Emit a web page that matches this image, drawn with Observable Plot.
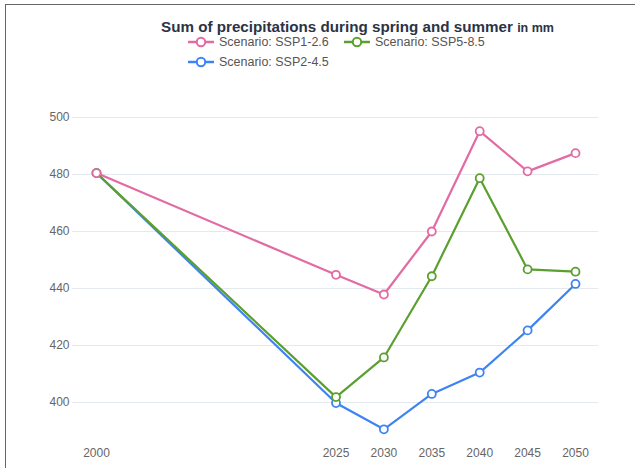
<!DOCTYPE html>
<html><head><meta charset="utf-8">
<script src="https://cdn.jsdelivr.net/npm/d3@7"></script>
<script src="https://cdn.jsdelivr.net/npm/@observablehq/plot@0.6"></script>
<style>
body{margin:0;background:#fff;font-family:"Liberation Sans",Arial,sans-serif;}
#wrap{position:relative;width:635px;height:468px;overflow:hidden;}
#frame{position:absolute;left:5px;top:4px;right:-2px;bottom:-2px;border-top:1.5px solid #666;border-left:1.5px solid #666;}
#title{position:absolute;left:0;width:715px;top:18px;text-align:center;font-weight:bold;font-size:15.2px;color:#2b3345;}
#title small{font-size:12.5px;}
.leg{position:absolute;font-size:12.5px;color:#555;display:flex;align-items:center;}
.leg svg{margin-right:5px;}
#chart{position:absolute;left:0;top:90px;}
</style></head>
<body><div id="wrap"><div id="frame"></div>
<div id="title">Sum of precipitations during spring and summer <small>in mm</small></div>
<div id="legend"></div>
<div id="chart"></div></div>
<script>
const years = [2000, 2025, 2030, 2035, 2040, 2045, 2050];
const ssp126 = [480.5, 444.8, 437.9, 460.0, 495.2, 481.1, 487.5];
const ssp245 = [480.5, 399.8, 390.6, 403.0, 410.5, 425.3, 441.6];
const ssp585 = [480.5, 401.9, 415.8, 444.3, 478.7, 446.7, 445.9];
const seriesNames = ["Scenario: SSP1-2.6", "Scenario: SSP5-8.5", "Scenario: SSP2-4.5"];
const seriesColors = ["#e26ba3", "#5b9f2f", "#3d84f2"];
const yTicks = [400, 420, 440, 460, 480, 500];

const seriesValues = {"Scenario: SSP1-2.6": ssp126, "Scenario: SSP5-8.5": ssp585, "Scenario: SSP2-4.5": ssp245};
const data = [];
for (const s of ["Scenario: SSP2-4.5", "Scenario: SSP5-8.5", "Scenario: SSP1-2.6"]) {
  years.forEach((yr, i) => data.push({series: s, year: yr, value: seriesValues[s][i]}));
}

// legend
const legPos = [[188, 35], [344, 35], [188, 55]];
const legend = document.getElementById("legend");
seriesNames.forEach((n, i) => {
  const d = document.createElement("div");
  d.className = "leg";
  d.style.left = legPos[i][0] + "px";
  d.style.top = legPos[i][1] + "px";
  d.innerHTML = `<svg width="26" height="14"><line x1="0" x2="26" y1="7" y2="7" stroke="${seriesColors[i]}" stroke-width="2.5"/><circle cx="13" cy="7" r="4.2" fill="#fff" stroke="${seriesColors[i]}" stroke-width="2"/></svg><span>${n}</span>`;
  legend.appendChild(d);
});

const chart = Plot.plot({
  width: 635,
  height: 378,
  marginLeft: 72,
  marginRight: 37,
  marginTop: 20,
  marginBottom: 26,
  style: {fontFamily: "Liberation Sans, Arial, sans-serif", fontSize: "12px", color: "#666", background: "transparent"},
  x: {domain: [2000, 2050], range: [96, 575]},
  y: {domain: [400, 500], range: [312, 27]},
  color: {domain: seriesNames, range: seriesColors},
  marks: [
    Plot.gridY(yTicks, {stroke: "#e4e8ef", strokeOpacity: 1, strokeWidth: 1}),
    Plot.axisY(yTicks, {tickSize: 0, tickPadding: 3, label: null, fill: "#666"}),
    Plot.axisX(years, {tickSize: 0, tickPadding: 6, label: null, tickFormat: d => String(d), fill: "#666"}),
    Plot.line(data, {x: "year", y: "value", z: "series", stroke: "series", strokeWidth: 2.2}),
    Plot.dot(data, {x: "year", y: "value", stroke: "series", fill: "#fff", r: 4, strokeWidth: 1.8})
  ]
});
document.getElementById("chart").appendChild(chart);
</script></body></html>
